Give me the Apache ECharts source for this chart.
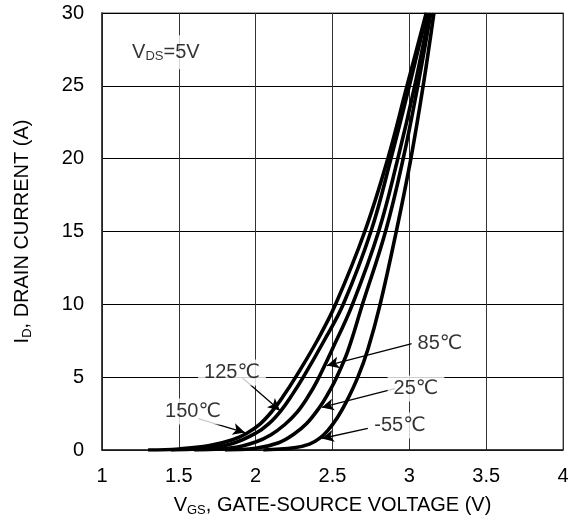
<!DOCTYPE html>
<html>
<head>
<meta charset="utf-8">
<script src="https://cdn.jsdelivr.net/npm/echarts@6/dist/echarts.min.js"></script>
<style>
  html, body { margin: 0; padding: 0; background: #fff; }
  #chart { width: 579px; height: 522px; }
</style>
</head>
<body>
<div id="chart"></div>
<script>
// transfer curves, VGS (V) vs ID (A)
const vgs150 = [1.30, 1.50, 1.70, 1.85, 1.94, 2.03, 2.11, 2.18, 2.26, 2.40, 2.52, 2.71, 2.86, 2.985, 3.11];
const id150  = [0, 0.07, 0.3, 0.7, 1.13, 1.8, 2.7, 3.7, 5.0, 7.5, 10, 15, 20, 25, 30];
const vgs125 = [1.45, 1.65, 1.85, 2.00, 2.09, 2.165, 2.235, 2.31, 2.445, 2.57, 2.75, 2.88, 3.00, 3.115];
const id125  = [0, 0.1, 0.45, 1.15, 1.85, 2.71, 3.75, 5.0, 7.5, 10, 15, 20, 25, 30];
const vgs85  = [1.60, 1.85, 2.00, 2.10, 2.19, 2.27, 2.34, 2.40, 2.50, 2.63, 2.80, 2.925, 3.035, 3.13];
const id85   = [0, 0.15, 0.55, 1.05, 1.75, 2.6, 3.65, 4.75, 6.95, 10, 15, 20, 25, 30];
const vgs25  = [1.80, 2.00, 2.15, 2.25, 2.33, 2.415, 2.47, 2.525, 2.60, 2.695, 2.845, 2.96, 3.055, 3.14];
const id25   = [0, 0.12, 0.5, 1.1, 1.8, 2.92, 3.85, 4.95, 6.8, 10, 15, 20, 25, 30];
const vgsM55 = [2.05, 2.25, 2.35, 2.415, 2.47, 2.53, 2.59, 2.665, 2.73, 2.81, 2.915, 3.01, 3.09, 3.16];
const idM55  = [0, 0.15, 0.4, 0.8, 1.35, 2.2, 3.3, 5.0, 6.9, 10, 15, 20, 25, 30];

// temperature labels and the arrows pointing to each curve
const tempNames  = ['150℃', '125℃', '85℃', '25℃', '-55℃'];
const labelPos   = [[1.592, 2.64], [1.846, 5.32], [3.199, 7.31], [3.043, 4.22], [2.939, 1.68]];
const arrowFrom  = [[1.625, 2.16], [1.911, 4.98], [3.017, 7.31], [2.906, 4.22], [2.73, 1.48]];
const arrowTo    = [[1.93, 1.2], [2.158, 2.71], [2.464, 5.8], [2.43, 2.92], [2.43, 0.79]];

const xTicks = { min: 1, max: 4, step: 0.5 };
const yTicks = { min: 0, max: 30, step: 5 };

const zip = (xs, ys) => xs.map((x, i) => [x, ys[i]]);
const FONT = "'Liberation Sans', Arial, 'DejaVu Sans', sans-serif";

const curves = [
  ['150', vgs150, id150],
  ['125', vgs125, id125],
  ['85', vgs85, id85],
  ['25', vgs25, id25],
  ['-55', vgsM55, idM55]
];

const chart = echarts.init(document.getElementById('chart'));

const series = curves.map(c => ({
  name: c[0],
  type: 'line',
  data: zip(c[1], c[2]),
  smooth: 0.4,
  showSymbol: false,
  lineStyle: { color: '#000', width: 3.6 },
  z: 3
}));

// arrows
series.push({
  type: 'line',
  data: [],
  silent: true,
  markLine: {
    silent: true,
    symbol: ['none', 'arrow'],
    symbolSize: [9, 12],
    label: { show: false },
    lineStyle: { color: '#000', width: 1.3, type: 'solid' },
    data: arrowFrom.map((p, i) => [{ coord: p }, { coord: arrowTo[i] }])
  },
  z: 4
});

// temperature texts with white boxes
series.push({
  type: 'scatter',
  symbolSize: 0,
  silent: true,
  data: labelPos.map((p, i) => ({ value: p, name: tempNames[i] })),
  label: {
    show: true,
    position: 'inside',
    formatter: p => p.name,
    fontFamily: FONT,
    fontSize: 20,
    color: '#000',
    backgroundColor: '#fff',
    padding: [3, 6]
  },
  z: 6
});

// VDS note
series.push({
  type: 'scatter',
  symbolSize: 0,
  silent: true,
  data: [[1.17, 27.3]],
  label: {
    show: true,
    position: 'right',
    distance: 0,
    formatter: '{a|V}{s|DS}{a|=5V}',
    backgroundColor: '#fff',
    padding: [6, 4],
    rich: {
      a: { fontFamily: FONT, fontSize: 20, color: '#000', lineHeight: 22 },
      s: { fontFamily: FONT, fontSize: 13, color: '#000', padding: [9, 0, 0, 0], lineHeight: 22 }
    }
  },
  z: 6
});

const nameRich = {
  a: { fontFamily: FONT, fontSize: 20, color: '#000', lineHeight: 24 },
  s: { fontFamily: FONT, fontSize: 13, color: '#000', padding: [10, 0, 0, 0], lineHeight: 24 }
};

chart.setOption({
  animation: false,
  backgroundColor: '#fff',
  grid: {
    left: 102, right: 16, top: 13, bottom: 72,
    show: true, borderColor: '#8a8a8a', borderWidth: 1.5
  },
  xAxis: {
    type: 'value',
    min: xTicks.min, max: xTicks.max, interval: xTicks.step,
    axisLine: { lineStyle: { color: '#222', width: 1.5 } },
    axisTick: { show: false },
    axisLabel: { fontFamily: FONT, fontSize: 20, color: '#000', margin: 16 },
    splitLine: { lineStyle: { color: '#333', width: 1 } },
    name: '{a|V}{s|GS}{a|, GATE-SOURCE VOLTAGE (V)}',
    nameLocation: 'middle',
    nameGap: 43,
    nameTextStyle: { rich: nameRich }
  },
  yAxis: {
    type: 'value',
    min: yTicks.min, max: yTicks.max, interval: yTicks.step,
    axisLine: { show: true, lineStyle: { color: '#222', width: 1.5 } },
    axisTick: { show: false },
    axisLabel: { fontFamily: FONT, fontSize: 20, color: '#000', margin: 18 },
    splitLine: { lineStyle: { color: '#000', width: 1 } },
    name: '{a|I}{s|D}{a|, DRAIN CURRENT (A)}',
    nameLocation: 'middle',
    nameRotate: 90,
    nameGap: 68,
    nameTextStyle: { rich: nameRich }
  },
  series: series
});
</script>
</body>
</html>
